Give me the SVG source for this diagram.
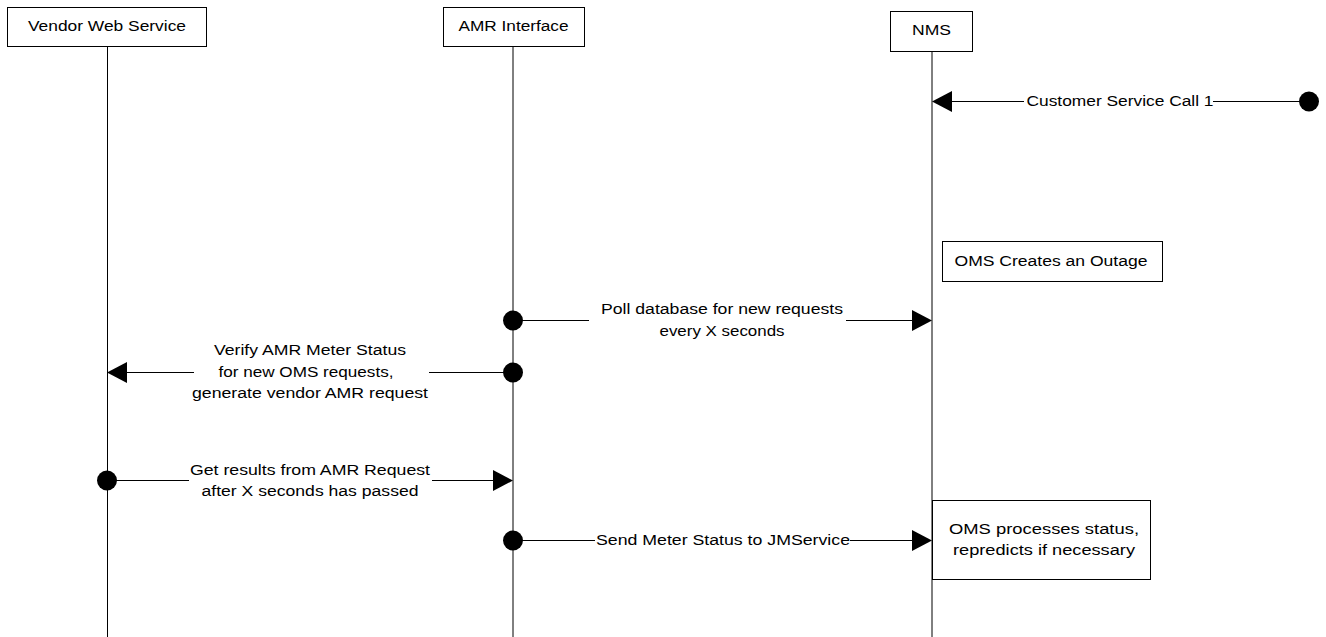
<svg xmlns="http://www.w3.org/2000/svg" width="1326" height="637" viewBox="0 0 1326 637">
<style>
.box{fill:#fff;stroke:#000;stroke-width:1}
.life{stroke:#000;stroke-width:1;fill:none}
.ln{stroke:#000;stroke-width:1;fill:none}
.dot{fill:#000}
.ah{fill:#000}
text{font-family:"Liberation Sans",Arial,sans-serif;font-size:14px;fill:#000;text-anchor:middle}
</style>
<rect width="1326" height="637" fill="#fff"/>
<g id="vendor">
<rect class="box" x="7.5" y="7.5" width="199" height="39"/>
<text x="107" y="31" textLength="158" lengthAdjust="spacingAndGlyphs">Vendor Web Service</text>
<line class="life" x1="107.5" y1="46.5" x2="107.5" y2="637"/>
</g>
<g id="amr">
<rect class="box" x="443.5" y="7.5" width="141" height="39"/>
<text x="513.5" y="31" textLength="110" lengthAdjust="spacingAndGlyphs">AMR Interface</text>
<line class="life" x1="513" y1="46.5" x2="513" y2="637"/>
</g>
<g id="nms">
<rect class="box" x="890.5" y="11.5" width="82" height="40"/>
<text x="931.5" y="35" textLength="39" lengthAdjust="spacingAndGlyphs">NMS</text>
<line class="life" x1="932" y1="51.5" x2="932" y2="637"/>
</g>
<g id="oms-outage">
<rect class="box" x="942.5" y="241.5" width="220" height="40"/>
<text x="1051" y="266" textLength="193" lengthAdjust="spacingAndGlyphs">OMS Creates an Outage</text>
</g>
<g id="oms-process">
<rect class="box" x="932.5" y="500.5" width="218" height="79"/>
<text x="1044" y="534" textLength="190" lengthAdjust="spacingAndGlyphs">OMS processes status,</text>
<text x="1044" y="555" textLength="182" lengthAdjust="spacingAndGlyphs">repredicts if necessary</text>
</g>
<g id="connectors">
<line class="ln" x1="950" y1="101.5" x2="1024" y2="101.5"/>
<line class="ln" x1="1213" y1="101.5" x2="1300" y2="101.5"/>
<polygon class="ah" points="932,101.5 952,91 952,112"/>
<circle class="dot" cx="1309" cy="101.5" r="10"/>
<text x="1120" y="106" textLength="187" lengthAdjust="spacingAndGlyphs">Customer Service Call 1</text>
<line class="ln" x1="513" y1="320.5" x2="589" y2="320.5"/>
<line class="ln" x1="846" y1="320.5" x2="914" y2="320.5"/>
<circle class="dot" cx="513" cy="320.5" r="10"/>
<polygon class="ah" points="932,320.5 912,310 912,331"/>
<text x="722" y="314" textLength="242" lengthAdjust="spacingAndGlyphs">Poll database for new requests</text>
<text x="722" y="336" textLength="125" lengthAdjust="spacingAndGlyphs">every X seconds</text>
<line class="ln" x1="125" y1="372.5" x2="194" y2="372.5"/>
<line class="ln" x1="429" y1="372.5" x2="513" y2="372.5"/>
<polygon class="ah" points="107,372.5 127,362 127,383"/>
<circle class="dot" cx="513" cy="372.5" r="10"/>
<text x="310" y="355" textLength="192" lengthAdjust="spacingAndGlyphs">Verify AMR Meter Status</text>
<text x="306" y="377" textLength="175" lengthAdjust="spacingAndGlyphs">for new OMS requests,</text>
<text x="310" y="398" textLength="236" lengthAdjust="spacingAndGlyphs">generate vendor AMR request</text>
<line class="ln" x1="107" y1="480.5" x2="189" y2="480.5"/>
<line class="ln" x1="432" y1="480.5" x2="495" y2="480.5"/>
<circle class="dot" cx="107" cy="480.5" r="10"/>
<polygon class="ah" points="513,480.5 493,470 493,491"/>
<text x="310" y="475" textLength="240" lengthAdjust="spacingAndGlyphs">Get results from AMR Request</text>
<text x="310" y="496" textLength="217" lengthAdjust="spacingAndGlyphs">after X seconds has passed</text>
<line class="ln" x1="513" y1="540.5" x2="595" y2="540.5"/>
<line class="ln" x1="850" y1="540.5" x2="914" y2="540.5"/>
<circle class="dot" cx="513" cy="540.5" r="10"/>
<polygon class="ah" points="932,540.5 912,530 912,551"/>
<text x="723" y="545" textLength="254" lengthAdjust="spacingAndGlyphs">Send Meter Status to JMService</text>
</g>
</svg>
